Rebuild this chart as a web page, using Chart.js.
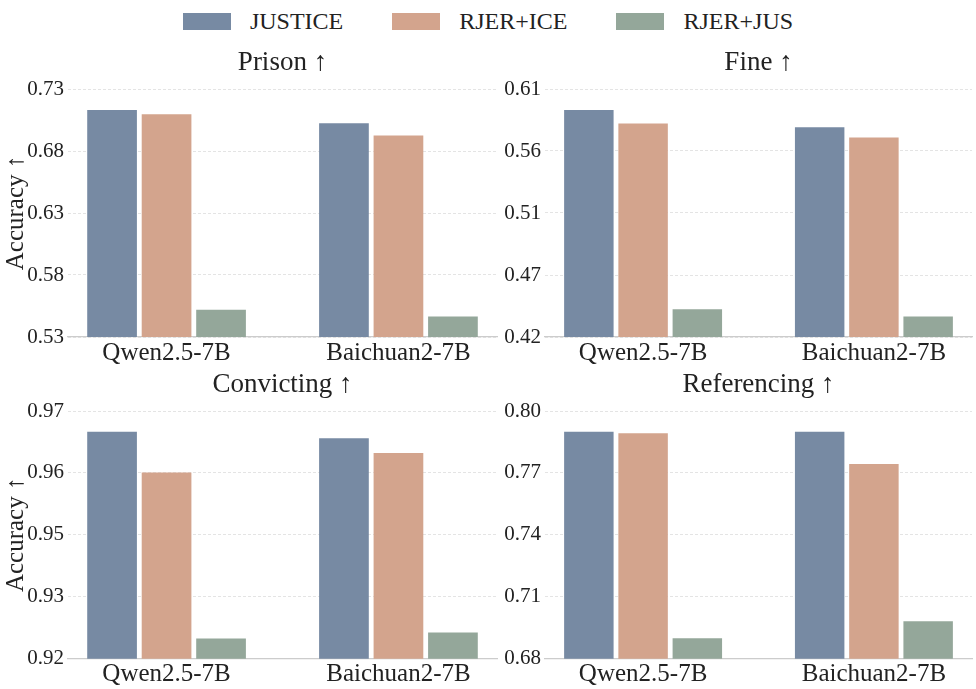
<!DOCTYPE html>
<html>
<head>
<meta charset="utf-8">
<script src="https://cdn.jsdelivr.net/npm/chart.js@4.4.1/dist/chart.umd.min.js"></script>
<style>
  body { margin: 0; background: #fff; width: 976px; height: 689px; position: relative; overflow: hidden; font-family: "Liberation Serif", serif; }
  .panel { position: absolute; }
  #legend { position: absolute; left: 0; top: 9px; width: 976px; height: 24px; display: flex; justify-content: center; align-items: center; font-size: 24px; line-height: 24px; color: #222; }
  .item { display: flex; align-items: center; margin: 0 24.5px; }
  .swatch { width: 48px; height: 17px; margin-right: 19px; }
</style>
</head>
<body>
<div id="legend"></div>
<canvas class="panel" id="g1" width="500" height="330" style="left:0;top:40px"></canvas>
<canvas class="panel" id="g2" width="476" height="330" style="left:500px;top:40px"></canvas>
<canvas class="panel" id="g3" width="500" height="327" style="left:0;top:362px"></canvas>
<canvas class="panel" id="g4" width="476" height="327" style="left:500px;top:362px"></canvas>
<script>
  // Data
  var categories = ['Qwen2.5-7B', 'Baichuan2-7B'];
  var catIndex = [0, 1];
  var seriesNames = ['JUSTICE', 'RJER+ICE', 'RJER+JUS'];
  var colors = ['#778aa3', '#d3a48d', '#94a79a'];

  // Prison
  var prisonJustice = [0.7131, 0.7024];
  var prisonIce = [0.7096, 0.6924];
  var prisonJus = [0.5520, 0.5466];
  var prisonRange = [0.53, 0.73];
  var prisonTicks = ['0.53', '0.58', '0.63', '0.68', '0.73'];

  // Fine
  var fineJustice = [0.5939, 0.5807];
  var fineIce = [0.5835, 0.5728];
  var fineJus = [0.4412, 0.4358];
  var fineRange = [0.42, 0.61];
  var fineTicks = ['0.42', '0.47', '0.51', '0.56', '0.61'];

  // Convicting
  var convJustice = [0.9658, 0.9645];
  var convIce = [0.9576, 0.9615];
  var convJus = [0.9241, 0.9253];
  var convRange = [0.92, 0.97];
  var convTicks = ['0.92', '0.93', '0.95', '0.96', '0.97'];

  // Referencing
  var refJustice = [0.7900, 0.7900];
  var refIce = [0.7892, 0.7743];
  var refJus = [0.6899, 0.6982];
  var refRange = [0.68, 0.80];
  var refTicks = ['0.68', '0.71', '0.74', '0.77', '0.80'];

  var fontFamily = '"Liberation Serif", "Times New Roman", serif';
  var textColor = '#222222';

  // Legend (shared by all panels)
  var legend = document.getElementById('legend');
  for (var i = 0; i < seriesNames.length; i++) {
    var item = document.createElement('div');
    item.className = 'item';
    item.innerHTML = '<div class="swatch" style="background:' + colors[i] + '"></div><span>' + seriesNames[i] + '</span>';
    legend.appendChild(item);
  }

  function makePanel(id, title, range, tickLabels, justice, ice, jus, showYTitle, yWidth, xHeight, padRight) {
    var ctx = document.getElementById(id).getContext('2d');
    return new Chart(ctx, {
      type: 'bar',
      data: {
        labels: catIndex,
        datasets: [
          { label: seriesNames[0], data: justice, backgroundColor: colors[0] },
          { label: seriesNames[1], data: ice, backgroundColor: colors[1] },
          { label: seriesNames[2], data: jus, backgroundColor: colors[2] }
        ]
      },
      options: {
        responsive: false,
        animation: false,
        categoryPercentage: 0.705,
        barPercentage: 0.912,
        layout: { padding: { left: 0, right: padRight, top: 0, bottom: 0 } },
        plugins: {
          legend: { display: false },
          tooltip: { enabled: false }
        },
        scales: {
          x: {
            type: 'linear',
            offset: false,
            min: -0.425,
            max: 1.425,
            grid: { display: false, drawTicks: false, offset: false },
            border: { display: true, color: '#cccccc', width: 1.3 },
            afterBuildTicks: function(scale) {
              scale.ticks = catIndex.map(function(v) { return { value: v }; });
            },
            afterFit: function(scale) { scale.height = xHeight; },
            ticks: {
              callback: function(value) { return categories[value]; },
              color: textColor,
              font: { family: fontFamily, size: 25 },
              padding: 1,
              maxRotation: 0,
              autoSkip: false
            }
          },
          y: {
            min: range[0],
            max: range[1],
            afterBuildTicks: function(scale) {
              var step = (range[1] - range[0]) / (tickLabels.length - 1);
              scale.ticks = tickLabels.map(function(t, k) { return { value: range[0] + k * step }; });
            },
            afterFit: function(scale) { scale.width = yWidth; },
            grid: { color: '#dddddd', lineWidth: 0.8, drawTicks: false },
            border: { display: false, dash: [3, 2] },
            ticks: {
              callback: function(value, index) { return tickLabels[index]; },
              color: textColor,
              font: { family: fontFamily, size: 21 },
              padding: 4
            },
            title: {
              display: showYTitle,
              text: 'Accuracy ↑',
              color: textColor,
              font: { family: fontFamily, size: 25 },
              padding: { top: 1.5, bottom: 0 }
            }
          },
          // top axis only carries the panel title, centred over the plot area
          top: {
            type: 'linear',
            axis: 'x',
            position: 'top',
            grid: { display: false, drawTicks: false },
            border: { display: false },
            ticks: { display: false },
            afterFit: function(scale) { scale.height = 49; },
            title: {
              display: true,
              text: title,
              color: textColor,
              font: { family: fontFamily, size: 27 },
              padding: { top: 6.3, bottom: 0 }
            }
          }
        }
      }
    });
  }

  // Load Graphs
  makePanel('g1', 'Prison ↑', prisonRange, prisonTicks, prisonJustice, prisonIce, prisonJus, true, 68, 33, 3);
  makePanel('g2', 'Fine ↑', fineRange, fineTicks, fineJustice, fineIce, fineJus, false, 45, 33, 4);
  makePanel('g3', 'Convicting ↑', convRange, convTicks, convJustice, convIce, convJus, true, 68, 30.3, 3);
  makePanel('g4', 'Referencing ↑', refRange, refTicks, refJustice, refIce, refJus, false, 45, 30.3, 4);
</script>
</body>
</html>
